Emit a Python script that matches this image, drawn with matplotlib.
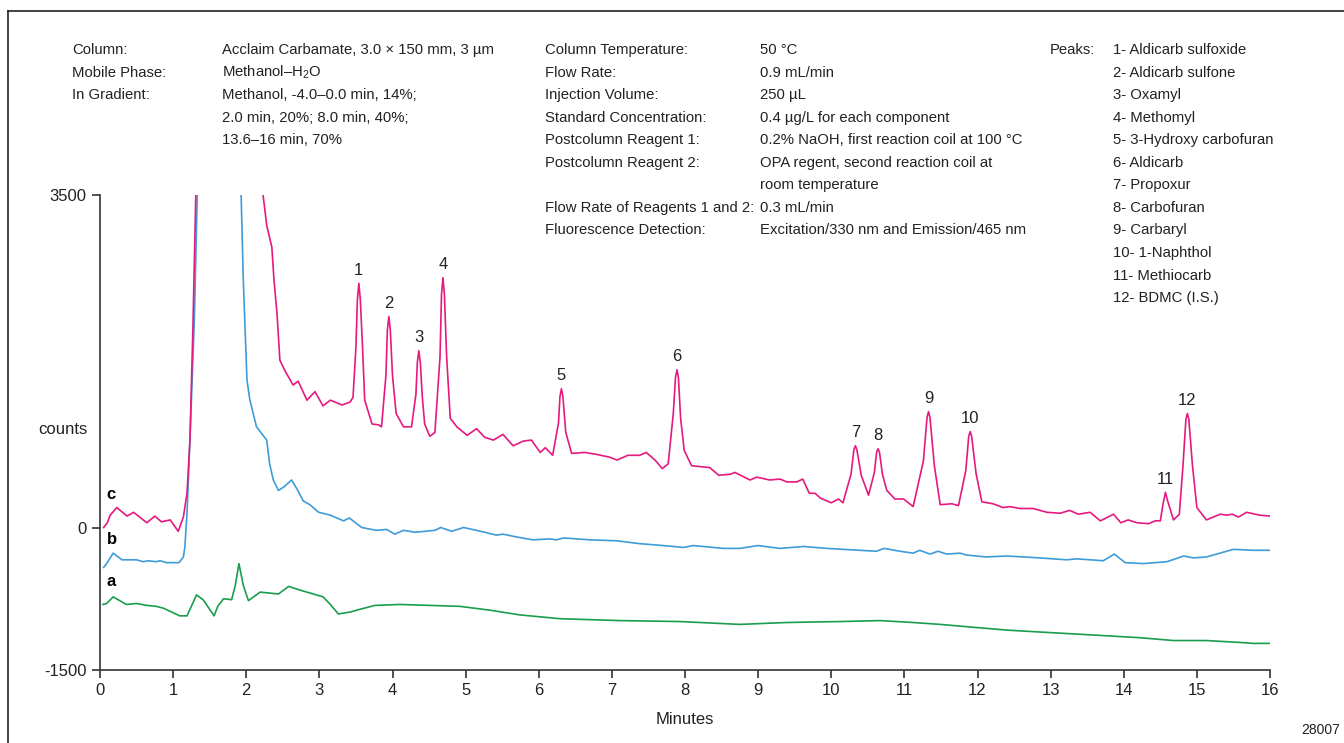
import matplotlib
matplotlib.use("Agg")
import matplotlib.pyplot as plt
from matplotlib.lines import Line2D

plt.rcParams['font.family'] = ['Liberation Sans', 'DejaVu Sans']
plt.rcParams['mathtext.fontset'] = 'custom'
plt.rcParams['mathtext.rm'] = 'Liberation Sans'
plt.rcParams['axes.unicode_minus'] = False

# trace c: standard (magenta)
c_time = [0.05, 0.10, 0.14, 0.23, 0.37, 0.46, 0.64, 0.75, 0.84, 0.96, 1.07, 1.14, 1.19, 1.23, 1.27, 1.31, 1.34, 1.80,
          2.19, 2.23, 2.28, 2.35, 2.38, 2.42, 2.46, 2.53, 2.64, 2.71, 2.83, 2.94, 3.05, 3.15, 3.31, 3.42, 3.46,
          3.50, 3.52, 3.54, 3.56, 3.59, 3.62, 3.72, 3.81, 3.85,
          3.91, 3.93, 3.95, 3.97, 4.00, 4.05, 4.15, 4.26,
          4.32, 4.34, 4.36, 4.38, 4.41, 4.44, 4.51, 4.58,
          4.65, 4.67, 4.69, 4.71, 4.74, 4.79, 4.88, 5.02, 5.15, 5.26, 5.38, 5.51, 5.65, 5.79, 5.90, 6.02, 6.09, 6.19,
          6.27, 6.29, 6.31, 6.33, 6.37, 6.45, 6.63, 6.79, 6.97, 7.07, 7.22, 7.38, 7.47, 7.59, 7.69, 7.77,
          7.84, 7.87, 7.89, 7.91, 7.94, 7.99, 8.09, 8.34, 8.46, 8.62, 8.68, 8.89, 8.98, 9.16, 9.30, 9.39, 9.53, 9.61,
          9.70, 9.78, 9.85, 10.00, 10.10, 10.16,
          10.27, 10.31, 10.33, 10.35, 10.41, 10.51, 10.59, 10.62, 10.64, 10.66, 10.70, 10.76, 10.87, 10.99, 11.12,
          11.26, 11.31, 11.33, 11.35, 11.41, 11.49, 11.65, 11.74,
          11.84, 11.88, 11.90, 11.92, 11.98, 12.06, 12.21, 12.35, 12.44, 12.58, 12.76, 12.95, 13.13, 13.26, 13.38,
          13.54, 13.68, 13.86, 13.96, 14.06, 14.18, 14.34, 14.43, 14.50,
          14.54, 14.57, 14.60, 14.68, 14.76, 14.81, 14.85, 14.87, 14.89, 14.94, 15.00, 15.13, 15.32, 15.41, 15.48,
          15.57, 15.68, 15.86, 16.00]
c_counts = [0, 50, 130, 210, 120, 160, 50, 120, 60, 80, -40, 110, 360, 920, 2080, 3500, 4500, 9000,
            3970, 3500, 3180, 2950, 2600, 2260, 1760, 1650, 1500, 1540, 1340, 1430, 1280, 1340, 1290, 1320, 1370,
            1900, 2400, 2570, 2400, 1900, 1340, 1090, 1080, 1060,
            1600, 2080, 2220, 2080, 1600, 1200, 1060, 1060,
            1400, 1740, 1860, 1740, 1350, 1090, 960, 1000,
            1800, 2450, 2630, 2450, 1800, 1150, 1060, 970, 1040, 950, 920, 980, 860, 910, 920, 790, 840, 760,
            1100, 1380, 1460, 1380, 1000, 780, 790, 770, 740, 710, 760, 760, 790, 710, 620, 670,
            1200, 1580, 1660, 1580, 1150, 810, 650, 630, 550, 560, 580, 500, 530, 500, 510, 480, 480, 510,
            360, 360, 310, 260, 300, 260,
            560, 820, 860, 820, 550, 340, 580, 790, 830, 790, 560, 390, 300, 300, 220,
            700, 1160, 1220, 1160, 650, 240, 250, 230,
            600, 960, 1010, 960, 570, 270, 250, 210, 220, 200, 200, 160, 150, 180, 140,
            160, 70, 140, 50, 80, 50, 40, 70, 70,
            260, 370, 280, 80, 140, 650, 1140, 1200, 1140, 650, 210, 80, 140, 130, 140,
            110, 160, 130, 120]

# trace b: blank (blue)
b_time = [0.05, 0.09, 0.18, 0.30, 0.50, 0.59, 0.66, 0.77, 0.82, 0.91, 1.08, 1.14, 1.16, 1.19, 1.23, 1.29, 1.33, 1.35,
          1.60, 1.90, 1.93, 1.96, 2.01, 2.05, 2.14, 2.22, 2.28, 2.32, 2.37, 2.44, 2.52, 2.62, 2.69, 2.78, 2.87,
          2.99, 3.15, 3.33, 3.41, 3.58, 3.78, 3.92, 4.03, 4.15, 4.31, 4.58, 4.66, 4.81, 4.97, 5.15, 5.42, 5.51,
          5.70, 5.92, 6.15, 6.24, 6.34, 6.70, 7.07, 7.38, 7.70, 7.98, 8.11, 8.39, 8.52, 8.75, 9.00, 9.30, 9.62,
          9.94, 10.39, 10.62, 10.72, 10.94, 11.12, 11.21, 11.35, 11.46, 11.58, 11.76, 11.85, 12.12, 12.40, 12.85,
          13.22, 13.36, 13.72, 13.87, 14.02, 14.27, 14.59, 14.82, 14.95, 15.13, 15.50, 15.77, 16.00]
b_counts = [-420, -380, -270, -340, -340, -360, -350, -360, -350, -370, -370, -310, -210, 150, 920, 2180, 3500, 4500,
            8000, 4500, 3500, 2600, 1550, 1340, 1060, 980, 920, 670, 500, 390, 430, 500, 410, 280, 240,
            160, 130, 70, 100, 0, -30, -20, -70, -30, -50, -30, 0, -40, 0, -30, -80, -70,
            -100, -130, -120, -130, -110, -130, -140, -170, -190, -210, -190, -210, -220, -220, -190, -220, -200,
            -220, -240, -250, -220, -250, -270, -240, -280, -250, -280, -270, -290, -310, -300, -320,
            -340, -330, -350, -280, -370, -380, -360, -300, -320, -310, -230, -240, -240]

# trace a: water sample (green)
a_time = [0.04, 0.09, 0.18, 0.36, 0.50, 0.64, 0.77, 0.87, 0.98, 1.09, 1.19, 1.32, 1.41, 1.49, 1.56, 1.61, 1.69,
          1.80, 1.85, 1.90, 1.96, 2.03, 2.19, 2.44, 2.58, 2.74, 3.05, 3.15, 3.26, 3.42, 3.56, 3.76, 4.10, 4.51,
          4.92, 5.33, 5.74, 6.29, 7.11, 7.93, 8.75, 9.39, 10.12, 10.67, 11.12, 11.49, 11.94, 12.40, 12.85, 13.31,
          13.77, 14.22, 14.68, 15.13, 15.59, 15.77, 16.00]
a_counts = [-810, -800, -730, -810, -800, -820, -830, -850, -890, -930, -930, -710, -760, -850, -930, -830, -750,
            -760, -610, -380, -610, -770, -680, -700, -620, -660, -730, -810, -910, -890, -860, -820, -810, -820,
            -830, -870, -920, -960, -980, -990, -1020, -1000, -990, -980, -1000, -1020, -1050, -1080, -1100, -1120,
            -1140, -1160, -1190, -1190, -1210, -1220, -1220]

peak_labels = ['1', '2', '3', '4', '5', '6', '7', '8', '9', '10', '11', '12']
peak_time = [3.54, 3.95, 4.36, 4.69, 6.31, 7.89, 10.33, 10.64, 11.33, 11.90, 14.57, 14.87]
peak_counts = [2570, 2220, 1860, 2630, 1460, 1660, 860, 830, 1220, 1010, 370, 1200]

info_left_keys = ['Column:', 'Mobile Phase:', 'In Gradient:', '', '']
info_left_vals = ['Acclaim Carbamate, 3.0 × 150 mm, 3 µm', 'Methanol–H$_2$O', 'Methanol, -4.0–0.0 min, 14%;',
                  '2.0 min, 20%; 8.0 min, 40%;', '13.6–16 min, 70%']
info_mid_keys = ['Column Temperature:', 'Flow Rate:', 'Injection Volume:', 'Standard Concentration:',
                 'Postcolumn Reagent 1:', 'Postcolumn Reagent 2:', '', 'Flow Rate of Reagents 1 and 2:',
                 'Fluorescence Detection:']
info_mid_vals = ['50 °C', '0.9 mL/min', '250 µL', '0.4 µg/L for each component',
                 '0.2% NaOH, first reaction coil at 100 °C', 'OPA regent, second reaction coil at',
                 'room temperature', '0.3 mL/min', 'Excitation/330 nm and Emission/465 nm']
peak_names = ['1- Aldicarb sulfoxide', '2- Aldicarb sulfone', '3- Oxamyl', '4- Methomyl',
              '5- 3-Hydroxy carbofuran', '6- Aldicarb', '7- Propoxur', '8- Carbofuran', '9- Carbaryl',
              '10- 1-Naphthol', '11- Methiocarb', '12- BDMC (I.S.)']

W, H = 1344, 743
fig = plt.figure(figsize=(13.44, 7.43), dpi=100)
ax = fig.add_axes([100 / W, 1 - 670 / H, 1170 / W, 475 / H])

ax.plot(a_time, a_counts, color='#1a9d4c', lw=1.2)
ax.plot(b_time, b_counts, color='#3d9cd9', lw=1.2)
ax.plot(c_time, c_counts, color='#e5197f', lw=1.2)

for lab, t, v in zip(peak_labels, peak_time, peak_counts):
    ax.annotate(lab, (t, v), xytext=(0, 4), textcoords='offset points', ha='center', va='bottom',
                fontsize=12, color='#222222')

ax.text(0.09, 270, 'c', fontsize=12, fontweight='bold', va='bottom')
ax.text(0.09, -200, 'b', fontsize=12, fontweight='bold', va='bottom')
ax.text(0.09, -650, 'a', fontsize=12, fontweight='bold', va='bottom')

ax.set_xlim(0, 16)
ax.set_ylim(-1500, 3500)
ax.set_xticks(range(0, 17))
ax.set_yticks([-1500, 0, 3500])
ax.spines['top'].set_visible(False)
ax.spines['right'].set_visible(False)
for s in ['left', 'bottom']:
    ax.spines[s].set_linewidth(1.2)
    ax.spines[s].set_color('#333333')
ax.tick_params(direction='out', length=6, width=1.2, color='#333333', labelsize=12, labelcolor='#222222')
ax.set_xlabel('Minutes', fontsize=12, color='#222222', labelpad=10)
ax.set_ylabel('counts', fontsize=12, color='#222222', rotation=0, labelpad=20)
ax.yaxis.set_label_coords(-0.032, 0.49)

fs = 10.7
row = 22.55
for i, (k, v) in enumerate(zip(info_left_keys, info_left_vals)):
    y = 1 - (50 + i * row) / H
    fig.text(72 / W, y, k, fontsize=fs, va='center', color='#222222')
    fig.text(222 / W, y, v, fontsize=fs, va='center', color='#222222')
for i, (k, v) in enumerate(zip(info_mid_keys, info_mid_vals)):
    y = 1 - (50 + i * row) / H
    fig.text(545 / W, y, k, fontsize=fs, va='center', color='#222222')
    fig.text(760 / W, y, v, fontsize=fs, va='center', color='#222222')
fig.text(1050 / W, 1 - 50 / H, 'Peaks:', fontsize=fs, va='center', color='#222222')
for i, name in enumerate(peak_names):
    fig.text(1113 / W, 1 - (50 + i * row) / H, name, fontsize=fs, va='center', color='#222222')

fig.text(1340 / W, 1 - 730 / H, '28007', fontsize=10, ha='right', va='center', color='#222222')

# frame lines at the top and left of the figure
fig.add_artist(Line2D([8 / W, 8 / W], [0, 1 - 11 / H], color='#222222', lw=1.2))
fig.add_artist(Line2D([8 / W, 1], [1 - 11 / H, 1 - 11 / H], color='#222222', lw=1.2))

fig.savefig('out.png', dpi=100)
